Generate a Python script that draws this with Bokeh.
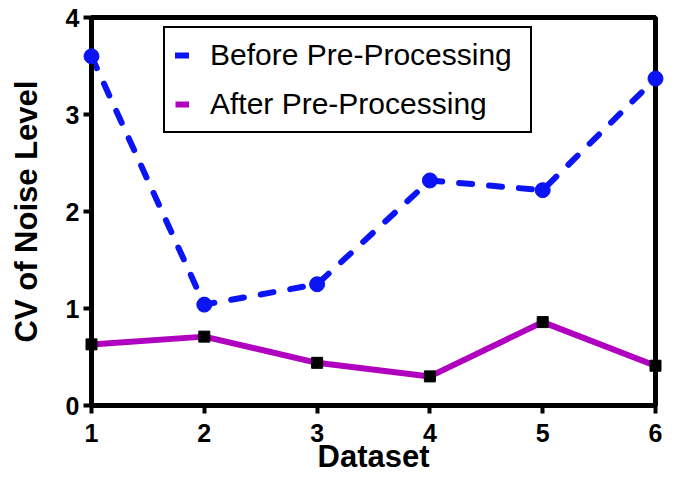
from bokeh.plotting import figure
from bokeh.models import Range1d, Legend, LegendItem, FixedTicker
from bokeh.embed import file_html
from bokeh.resources import INLINE

datasets = [1, 2, 3, 4, 5, 6]
before = [3.60, 1.04, 1.25, 2.32, 2.22, 3.37]
after = [0.63, 0.71, 0.44, 0.30, 0.86, 0.41]
x_ticks = [1, 2, 3, 4, 5, 6]
y_ticks = [0, 1, 2, 3, 4]

FONT = "Liberation Sans"

p = figure(width=674, height=481, output_backend="svg", toolbar_location=None,
           x_range=Range1d(1, 6), y_range=Range1d(0, 4),
           min_border_left=91, min_border_right=19, min_border_top=17, min_border_bottom=76)
p.background_fill_color = "white"
p.border_fill_color = "white"
p.grid.visible = False
p.outline_line_color = "black"
p.outline_line_width = 5
p.outline_line_alpha = 1

blue = "#0a14f5"
mag = "#b000c0"

r_before = p.line(datasets, before, line_color=blue, line_width=6, line_dash="13 17", line_cap="round")
r_after = p.line(datasets, after, line_color=mag, line_width=6)
s1 = p.scatter(datasets, before, marker="circle", size=15, fill_color=blue, line_color=blue, level="overlay")
s2 = p.scatter(datasets, after, marker="square", size=11, fill_color="black", line_color="black", level="overlay")

for ax in (p.xaxis[0], p.yaxis[0]):
    ax.axis_line_width = 5
    ax.axis_line_color = "black"
    ax.major_tick_line_width = 4
    ax.major_tick_line_color = "black"
    ax.major_tick_out = 8
    ax.major_tick_in = 0
    ax.minor_tick_line_color = None
    ax.major_label_text_font = FONT
    ax.major_label_text_font_style = "bold"
    ax.major_label_text_font_size = "25px"
    ax.major_label_text_color = "black"
    ax.axis_label_text_font = FONT
    ax.axis_label_text_font_style = "bold"
    ax.axis_label_text_font_size = "31px"
    ax.axis_label_text_color = "black"

p.xaxis[0].ticker = FixedTicker(ticks=x_ticks)
p.yaxis[0].ticker = FixedTicker(ticks=y_ticks)
p.xaxis[0].axis_label = "Dataset"
p.yaxis[0].axis_label = "CV of Noise Level"
p.xaxis[0].major_label_standoff = 10
p.yaxis[0].major_label_standoff = 4
p.xaxis[0].axis_label_standoff = -6
p.yaxis[0].axis_label_standoff = 19

legend = Legend(items=[LegendItem(label="Before Pre-Processing", renderers=[r_before]),
                       LegendItem(label="After Pre-Processing", renderers=[r_after])],
                location=(72, 272))
legend.border_line_color = "black"
legend.border_line_alpha = 1
legend.border_line_width = 2
legend.background_fill_color = "white"
legend.background_fill_alpha = 1
legend.label_text_font = FONT
legend.label_text_font_size = "30px"
legend.label_text_color = "black"
legend.label_height = 28
legend.label_width = 310
legend.glyph_width = 14
legend.glyph_height = 28
legend.spacing = 15
legend.padding = 10
legend.margin = 0
legend.label_standoff = 21
p.add_layout(legend, "center")

open("out.html", "w").write(file_html(p, INLINE))
